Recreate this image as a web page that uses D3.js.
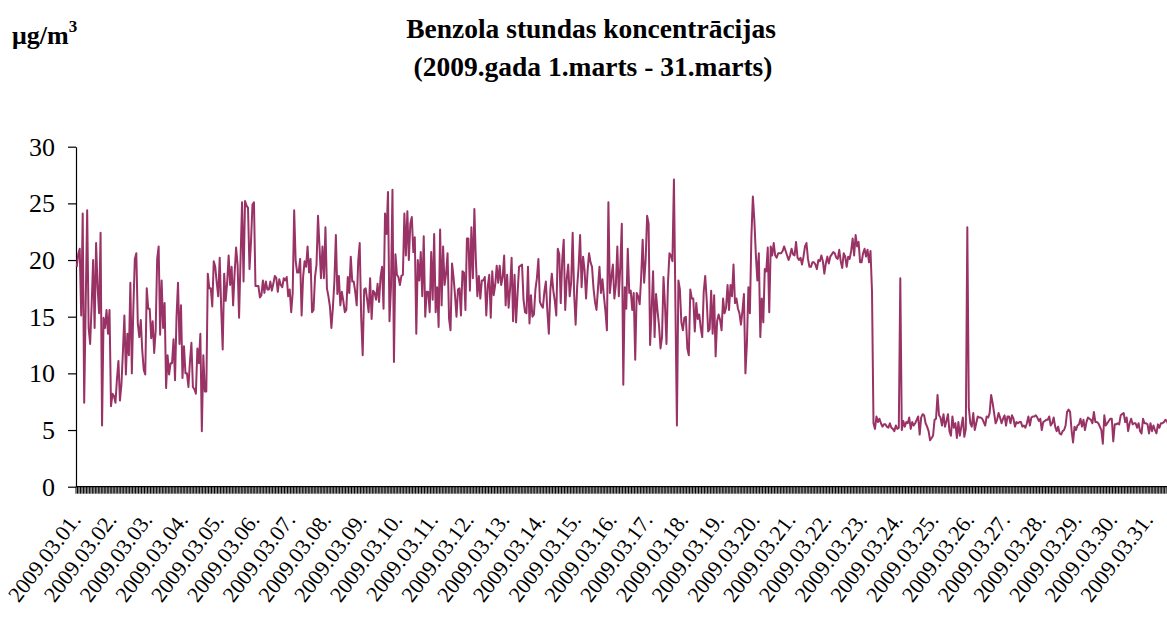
<!DOCTYPE html>
<html>
<head>
<meta charset="utf-8">
<script src="https://cdn.jsdelivr.net/npm/d3@7"></script>
<style>
  html, body { margin: 0; padding: 0; background: #fff; }
  svg { display: block; }
  text { font-family: "Liberation Serif", "Times New Roman", serif; fill: #000; }
</style>
</head>
<body>
<div id="chart"></div>
<script>
// hourly benzene values, one array per day (24 hours)
var day01 = [19.4, 20.5, 21, 15.1, 24.1, 7.4, 16, 24.4, 14, 12.6, 16, 20, 14, 21.5, 17.6, 15.3, 22.4, 5.4, 14.9, 14, 15.6, 13.5, 15.6, 7.1];
var day02 = [8.2, 8, 7.4, 9.5, 11.1, 7.6, 9, 11.9, 15.1, 9.9, 13.5, 11.6, 18, 10, 15.7, 20.1, 20.6, 14.4, 13.2, 14.7, 12, 10.3, 9.9, 17.5];
var day03 = [15.7, 15.7, 13.1, 14.6, 11.8, 13.8, 20.1, 21.2, 13.4, 18.2, 14, 16.2, 8.7, 11.6, 9.9, 10.9, 10.9, 13, 9.4, 15, 18, 12.6, 16, 9.6];
var day04 = [12.4, 10, 10, 8.8, 11, 12.7, 8.8, 8.6, 8.2, 12.2, 10.9, 13.5, 4.9, 11.6, 8.4, 8.4, 18.8, 17.5, 17.5, 15.9, 19.9, 19.4, 18, 16.8];
var day05 = [20.2, 15.7, 12.1, 18.8, 16.4, 18, 20.4, 17.8, 19.4, 16, 18.8, 21.1, 19.6, 14.9, 20.1, 25.1, 18.1, 25.2, 24.8, 24.6, 19.2, 21.6, 24.9, 25.1];
var day06 = [17.7, 17.7, 17.7, 16.7, 16.9, 18.2, 17.1, 18.1, 17.4, 17.4, 18.1, 17.3, 17.9, 18.6, 18.4, 17.2, 18.3, 17.8, 17.6, 18.4, 18.2, 18.5, 16.8, 17.4];
var day07 = [15.4, 17.1, 24.4, 19.9, 18.9, 18.9, 20.1, 15.1, 18.5, 19.9, 19.4, 21.2, 18.9, 20.1, 15.4, 15.6, 18.5, 19.6, 23.9, 21.2, 18.4, 21.2, 18.4, 22.9];
var day08 = [17.5, 16.8, 15.9, 14, 15.8, 18.1, 22.2, 17, 18.6, 16, 17.2, 16.4, 15.4, 15.6, 18.5, 17.1, 20.3, 18.1, 18.1, 17.2, 16, 19.9, 21.5, 14.9];
var day09 = [11.6, 17.4, 17.5, 16.5, 15.4, 18.4, 14.8, 17.3, 17.1, 16.5, 17.9, 16.3, 18.5, 19.4, 15.7, 24.1, 22.3, 26, 14.6, 17.6, 26.2, 11, 20.5, 18.7];
var day10 = [18.5, 17.8, 18.6, 18.7, 24.1, 20.4, 24.3, 20, 23.2, 23.8, 20.7, 22, 13.5, 20, 18.2, 20.7, 16.8, 22.1, 15, 17.2, 17.2, 15.4, 20.7, 16.5];
var day11 = [22.3, 15.4, 17.6, 14.1, 22.7, 16, 21.2, 17.8, 18.8, 20.6, 14.8, 13.8, 19.7, 18.5, 16.9, 15, 17.4, 17.5, 15.1, 19, 18.9, 15.6, 21.9, 21.9];
var day12 = [17.3, 22.9, 18.4, 24.5, 20, 16.8, 18.6, 16.6, 18.2, 18.2, 18.5, 15.1, 17.7, 18.7, 14.9, 19, 16.9, 17.8, 19.5, 18, 19.5, 17.8, 18.5, 20.4];
var day13 = [16, 18.7, 15.8, 17.5, 20.2, 14.6, 18.7, 14.5, 17, 19.4, 19.5, 19.6, 16.5, 15.4, 15.3, 19.4, 14.4, 16.9, 15, 15.2, 17.4, 18.4, 20.1, 16.3];
var day14 = [16, 15.8, 17.2, 18.1, 15.5, 13.5, 17.3, 18.8, 17.3, 16.4, 15.1, 21, 20.5, 16.2, 20, 21.8, 15.6, 18.3, 19.6, 16.8, 18, 22.4, 17, 14.3];
var day15 = [17.6, 19.4, 22.2, 17.6, 20.3, 19.1, 16.6, 19, 20.6, 19.8, 19.4, 17.5, 16.3, 15.6, 17.5, 19.4, 17.1, 18.3, 16.8, 15.5, 13.8, 25.1, 17.1, 18.5];
var day16 = [19.6, 16.6, 17.8, 21.2, 16.8, 19.5, 23.2, 9, 17.6, 15.7, 21, 17.1, 17.3, 15.6, 17.1, 11.2, 17.1, 16.8, 16.1, 18.5, 21.8, 18, 20, 23.9];
var day17 = [23.2, 12.5, 15.5, 19, 13.2, 17, 15.5, 14.2, 12.2, 13.2, 18.5, 16, 12.6, 18, 20.6, 20.4, 19.9, 27.1, 16, 5.4, 18.2, 17.4, 14.5, 13.8];
var day18 = [14.9, 15, 12.2, 11.6, 17.4, 16.6, 16.6, 13.7, 16.2, 14.8, 15.2, 14, 13.2, 17.2, 18.6, 16.5, 13.7, 13.9, 17.3, 13.5, 16.9, 11.5, 14.6, 15.2];
var day19 = [14.7, 13.8, 16.6, 15.3, 15.8, 17.8, 15.6, 17.8, 16.8, 19.6, 16.2, 16.6, 15.7, 15.3, 14.3, 15.5, 17, 10, 12.6, 17.6, 15.3, 22, 25.6, 23.5];
var day20 = [20.5, 18.2, 20.6, 13.2, 16.6, 14.5, 19.2, 19, 21.1, 15.4, 21.2, 20.4, 21.5, 20.4, 20.2, 20.6, 20.6, 20.6, 20.8, 21.2, 20.8, 20.4, 20, 20.4];
var day21 = [21, 20.5, 20.4, 21.6, 20.2, 20, 20.2, 19.6, 20.3, 21.2, 21.5, 20.1, 19.4, 19.4, 19.8, 19.8, 19.6, 19.2, 20, 19.9, 20.4, 19.9, 18.8, 19.7];
var day22 = [20.3, 19.7, 20.3, 20.5, 20.7, 20.6, 20.2, 20.1, 20.9, 19.9, 19.3, 20.6, 20.3, 19.4, 20.3, 20.1, 20.8, 21.9, 20.4, 22.2, 21.2, 21.6, 19.8, 19.8];
var day23 = [20.6, 21, 20.3, 20.9, 19.8, 20.8, 17.2, 5.6, 5.1, 6.2, 5.7, 6, 5.6, 5.3, 5.5, 5.5, 5.3, 5.2, 5.6, 5.2, 5.1, 4.9, 5.4, 5.1];
var day24 = [5.2, 18.4, 5, 5.8, 5.3, 5.7, 5.6, 6.1, 5.1, 5.7, 5.4, 5.6, 5.9, 6.2, 4.6, 6.1, 6.4, 6.3, 5.6, 5.3, 4.9, 4.1, 4.3, 4.5];
var day25 = [5.9, 6, 8.1, 6.3, 6.1, 5.4, 6.4, 5.3, 5.8, 6.4, 4.9, 4.5, 6.2, 5.2, 5.6, 4.3, 5.7, 4.5, 5.3, 6.1, 4.4, 5.1, 22.9, 7];
var day26 = [5.6, 5.3, 6.5, 5, 5.6, 6.2, 6.1, 6.1, 6, 5.7, 5.4, 6.2, 6.1, 6.5, 8.1, 7.4, 6.5, 5.6, 5.9, 6.5, 6.1, 5.6, 6, 6.3];
var day27 = [5.4, 6.2, 6.2, 5.6, 6.3, 6, 5.3, 5.7, 5.6, 5.7, 5.7, 5.3, 5.4, 5.2, 5.6, 6.2, 5.4, 6.1, 6.2, 6.2, 6.3, 6.1, 5.8, 6];
var day28 = [5, 5.7, 5.8, 5.9, 5.9, 6.2, 5.4, 5.6, 6.1, 5.3, 4.9, 5.3, 4.7, 4.6, 4.9, 5, 5.4, 6.6, 6.8, 6.6, 5, 3.9, 5.3, 5];
var day29 = [5.4, 5.5, 6, 5.3, 5.9, 5, 5.7, 6.1, 6, 5.9, 5.6, 6.6, 5.7, 5.7, 5.6, 5.3, 5, 3.8, 6.3, 5.4, 5.6, 5.8, 6, 6];
var day30 = [4, 5.5, 5.5, 5.6, 5.5, 6.3, 6.4, 6.5, 5.7, 6.1, 4.9, 5.6, 6, 5.5, 5.6, 5.6, 5.2, 5.6, 4.9, 4.7, 6, 5.6, 5.6, 5.5];
var day31 = [4.7, 5.6, 4.9, 5.4, 5, 4.7, 5.5, 5.2, 5.6, 5.6, 5.7, 5.9, 5.8, 5.4, 5.6, 5.2, 5.9, 5.5, 5.3, 5.7, 6, 5.4, 5.6, 5.5];

var dayLabels = ["2009.03.01.", "2009.03.02.", "2009.03.03.", "2009.03.04.", "2009.03.05.", "2009.03.06.",
  "2009.03.07.", "2009.03.08.", "2009.03.09.", "2009.03.10.", "2009.03.11.", "2009.03.12.", "2009.03.13.",
  "2009.03.14.", "2009.03.15.", "2009.03.16.", "2009.03.17.", "2009.03.18.", "2009.03.19.", "2009.03.20.",
  "2009.03.21.", "2009.03.22.", "2009.03.23.", "2009.03.24.", "2009.03.25.", "2009.03.26.", "2009.03.27.",
  "2009.03.28.", "2009.03.29.", "2009.03.30.", "2009.03.31."];
var yTicks = [0, 5, 10, 15, 20, 25, 30];

var days = [day01, day02, day03, day04, day05, day06, day07, day08, day09, day10, day11, day12, day13, day14, day15,
  day16, day17, day18, day19, day20, day21, day22, day23, day24, day25, day26, day27, day28, day29, day30, day31];
var values = days.flat();

var w = 1167, h = 617;
var plotLeft = 76, plotTop = 146.7, plotBottom = 486.7;
var plotRight = 1184; // chart area runs a bit past the picture edge

var svg = d3.select('#chart').
append('svg').
attr('width', w).
attr('height', h);

var x = d3.scaleBand().
domain(d3.range(values.length)).
range([plotLeft, plotRight]);
var y = d3.scaleLinear().
domain([0, 30]).
range([plotBottom, plotTop]);

// title and unit
svg.append('text').
attr('x', 591).
attr('y', 38).
attr('text-anchor', 'middle').
style('font-size', '27.5px').
style('font-weight', 'bold').
text('Benzola stundas koncentrācijas');
svg.append('text').
attr('x', 593).
attr('y', 76).
attr('text-anchor', 'middle').
style('font-size', '27.5px').
style('font-weight', 'bold').
text('(2009.gada 1.marts - 31.marts)');
var unit = svg.append('text').
attr('x', 12).
attr('y', 44).
style('font-size', '26px').
style('font-weight', 'bold');
unit.append('tspan').text('μg/m');
unit.append('tspan').attr('dy', -12).style('font-size', '17px').text('3');

// y axis
var yAxis = svg.append('g').
attr('transform', 'translate(' + plotLeft + ',0)').
call(d3.axisLeft(y).tickValues(yTicks).tickSize(8).tickSizeOuter(0).tickPadding(13));
yAxis.select('.domain').attr('stroke', '#000').attr('stroke-width', 1.2);
yAxis.selectAll('.tick line').attr('stroke', '#000').attr('stroke-width', 1.2);
yAxis.selectAll('.tick text').
style('font-family', '"Liberation Serif", serif').
style('font-size', '26px').
attr('fill', '#000');

// x axis: a tick between every hour
var step = x.step();
svg.append('g').
selectAll('line').
data(d3.range(values.length + 1)).
enter().
append('line').
attr('x1', d => x.range()[0] + d * step).
attr('x2', d => x.range()[0] + d * step).
attr('y1', plotBottom).
attr('y2', plotBottom + 7).
attr('stroke', '#000').
attr('stroke-width', 1);
svg.append('line').
attr('x1', plotLeft).
attr('x2', plotRight).
attr('y1', plotBottom).
attr('y2', plotBottom).
attr('stroke', '#000').
attr('stroke-width', 1.2);

svg.append('g').
selectAll('text').
data(dayLabels).
enter().
append('text').
attr('text-anchor', 'end').
attr('transform', (d, i) => 'translate(' + (x(i * 24) + step / 2 + 5) + ',' + 520 + ') rotate(-53)').
style('font-size', '22px').
text(d => d);

// the series
var line = d3.line().
x((d, i) => x(i) + x.bandwidth() / 2).
y(d => y(d));
svg.append('path').
datum(values).
attr('d', line).
attr('fill', 'none').
attr('stroke', '#993366').
attr('stroke-width', 2).
attr('stroke-linejoin', 'round');
</script>
</body>
</html>
